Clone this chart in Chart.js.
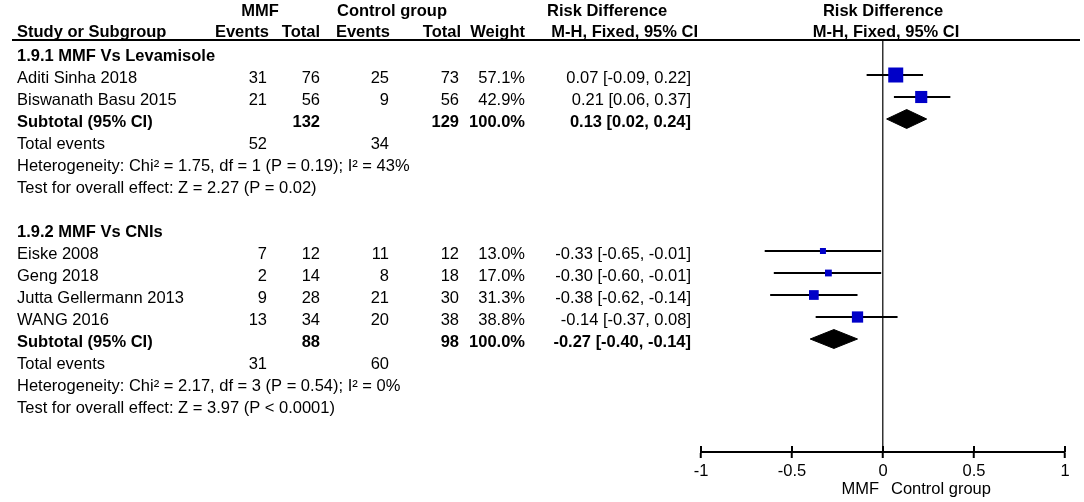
<!DOCTYPE html>
<html>
<head>
<meta charset="utf-8">
<title>MMF vs control group - risk difference</title>
<script src="https://cdn.jsdelivr.net/npm/chart.js@4.4.0/dist/chart.umd.min.js"></script>
<style>
  html, body { margin: 0; padding: 0; background: #fff; }
  #wrap { width: 1084px; height: 502px; }
</style>
</head>
<body>
<div id="wrap"><canvas id="forest" width="1084" height="502"></canvas></div>
<script>
// ---- data ----
const groupNames = ['1.9.1 MMF Vs Levamisole', '1.9.2 MMF Vs CNIs'];
const studies = ['Aditi Sinha 2018', 'Biswanath Basu 2015', 'Eiske 2008', 'Geng 2018', 'Jutta Gellermann 2013', 'WANG 2016'];
const studyGroup = [0, 0, 1, 1, 1, 1];
const mmfEvents = [31, 21, 7, 2, 9, 13];
const mmfTotal = [76, 56, 12, 14, 28, 34];
const ctrlEvents = [25, 9, 11, 8, 21, 20];
const ctrlTotal = [73, 56, 12, 18, 30, 38];
const weights = [57.1, 42.9, 13.0, 17.0, 31.3, 38.8];
const rd = [0.07, 0.21, -0.33, -0.30, -0.38, -0.14];
const rdLow = [-0.09, 0.06, -0.65, -0.60, -0.62, -0.37];
const rdHigh = [0.22, 0.37, -0.01, -0.01, -0.14, 0.08];

const subMmfTotal = [132, 88];
const subCtrlTotal = [129, 98];
const subWeight = [100.0, 100.0];
const subRd = [0.13, -0.27];
const subLow = [0.02, -0.40];
const subHigh = [0.24, -0.14];
const totalEventsMmf = [52, 31];
const totalEventsCtrl = [34, 60];
const heterogeneity = [
  'Heterogeneity: Chi\u00b2 = 1.75, df = 1 (P = 0.19); I\u00b2 = 43%',
  'Heterogeneity: Chi\u00b2 = 2.17, df = 3 (P = 0.54); I\u00b2 = 0%'
];
const overallEffect = [
  'Test for overall effect: Z = 2.27 (P = 0.02)',
  'Test for overall effect: Z = 3.97 (P < 0.0001)'
];
const xTicks = [-1, -0.5, 0, 0.5, 1];

// ---- row layout (one row per line of the table) ----
const headingRow = [], subtotalRow = [], totalRow = [], hetRow = [], testRow = [];
const studyRow = [];
let row = 0;
groupNames.forEach((name, g) => {
  headingRow.push(row++);
  studies.forEach((s, i) => { if (studyGroup[i] === g) studyRow[i] = row++; });
  subtotalRow.push(row++);
  totalRow.push(row++);
  hetRow.push(row++);
  testRow.push(row++);
  row++; // blank line between subgroups
});

const FONT = '"Liberation Sans", Arial, sans-serif';
const FONT_SIZE = 16.5;
const TEXT_DY = 3.5; // table text sits a little below the marker centre
Chart.defaults.font.family = FONT;
Chart.defaults.font.size = 16;
Chart.defaults.color = '#000';

function ciText(est, lo, hi) {
  return est.toFixed(2) + ' [' + lo.toFixed(2) + ', ' + hi.toFixed(2) + ']';
}

const squareData = studies.map((s, i) => ({ x: rd[i], y: studyRow[i] }));

const ciSets = studies.map((s, i) => ({
  label: s + ' CI',
  data: [{ x: rdLow[i], y: studyRow[i] }, { x: rdHigh[i], y: studyRow[i] }],
  showLine: true,
  borderColor: '#000',
  borderWidth: 2,
  pointRadius: 0,
  order: 2
}));

const DIAMOND_H = 0.43;
const diamondSets = groupNames.map((g, k) => {
  const r = subtotalRow[k];
  return {
    label: 'Subtotal ' + (k + 1),
    data: [
      { x: subLow[k], y: r },
      { x: subRd[k], y: r - DIAMOND_H },
      { x: subHigh[k], y: r },
      { x: subRd[k], y: r + DIAMOND_H },
      { x: subLow[k], y: r }
    ],
    showLine: true,
    fill: 'shape',
    backgroundColor: '#000',
    borderColor: '#000',
    borderWidth: 1,
    pointRadius: 0,
    tension: 0,
    order: 1
  };
});

// table text and decorations drawn against the chart's own scales
const tablePlugin = {
  id: 'forestTable',
  afterDraw(chart) {
    const ctx = chart.ctx;
    const xs = chart.scales.x;
    const ys = chart.scales.y;
    const area = chart.chartArea;
    const x0 = xs.getPixelForValue(0);

    function txt(str, x, r, align, bold, dy) {
      ctx.font = (bold ? 'bold ' : '') + FONT_SIZE + 'px ' + FONT;
      ctx.textAlign = align;
      ctx.textBaseline = 'middle';
      ctx.fillStyle = '#000';
      ctx.fillText(str, x, ys.getPixelForValue(r) + (dy === undefined ? TEXT_DY : dy));
    }

    ctx.save();
    // header underline
    ctx.strokeStyle = '#000';
    ctx.lineWidth = 2;
    ctx.beginPath();
    ctx.moveTo(12, area.top);
    ctx.lineTo(1080, area.top);
    ctx.stroke();

    // upper half of the axis ticks
    xs.ticks.forEach((t, i) => {
      const px = xs.getPixelForTick(i);
      ctx.beginPath();
      ctx.moveTo(px, area.bottom - 6);
      ctx.lineTo(px, area.bottom);
      ctx.stroke();
    });

    // column headers
    const h1 = 2.5, h2 = 1.5;
    txt('MMF', 260, -2, 'center', true, h1);
    txt('Control group', 392, -2, 'center', true, h1);
    txt('Risk Difference', 547, -2, 'left', true, h1);
    txt('Risk Difference', x0, -2, 'center', true, h1);
    txt('Study or Subgroup', 17, -1, 'left', true, h2);
    txt('Events', 269, -1, 'right', true, h2);
    txt('Total', 320, -1, 'right', true, h2);
    txt('Events', 390, -1, 'right', true, h2);
    txt('Total', 461, -1, 'right', true, h2);
    txt('Weight', 525, -1, 'right', true, h2);
    txt('M-H, Fixed, 95% CI', 698, -1, 'right', true, h2);
    txt('M-H, Fixed, 95% CI', x0 + 3, -1, 'center', true, h2);

    groupNames.forEach((name, g) => {
      txt(name, 17, headingRow[g], 'left', true);
      studies.forEach((s, i) => {
        if (studyGroup[i] !== g) return;
        const r = studyRow[i];
        txt(s, 17, r, 'left', false);
        txt(String(mmfEvents[i]), 267, r, 'right', false);
        txt(String(mmfTotal[i]), 320, r, 'right', false);
        txt(String(ctrlEvents[i]), 389, r, 'right', false);
        txt(String(ctrlTotal[i]), 459, r, 'right', false);
        txt(weights[i].toFixed(1) + '%', 525, r, 'right', false);
        txt(ciText(rd[i], rdLow[i], rdHigh[i]), 691, r, 'right', false);
      });
      const sr = subtotalRow[g];
      txt('Subtotal (95% CI)', 17, sr, 'left', true);
      txt(String(subMmfTotal[g]), 320, sr, 'right', true);
      txt(String(subCtrlTotal[g]), 459, sr, 'right', true);
      txt(subWeight[g].toFixed(1) + '%', 525, sr, 'right', true);
      txt(ciText(subRd[g], subLow[g], subHigh[g]), 691, sr, 'right', true);
      txt('Total events', 17, totalRow[g], 'left', false);
      txt(String(totalEventsMmf[g]), 267, totalRow[g], 'right', false);
      txt(String(totalEventsCtrl[g]), 389, totalRow[g], 'right', false);
      txt(heterogeneity[g], 17, hetRow[g], 'left', false);
      txt(overallEffect[g], 17, testRow[g], 'left', false);
    });

    // favours labels under the axis
    ctx.font = FONT_SIZE + 'px ' + FONT;
    ctx.textBaseline = 'middle';
    ctx.textAlign = 'right';
    ctx.fillText('MMF', x0 - 4, 489);
    ctx.textAlign = 'left';
    ctx.fillText('Control group', x0 + 8, 489);
    ctx.restore();
  }
};

new Chart(document.getElementById('forest'), {
  type: 'scatter',
  data: {
    datasets: [
      {
        label: 'Studies',
        data: squareData,
        pointStyle: 'rect',
        pointRadius: c => (3.35 + 0.204 * weights[c.dataIndex]) / Math.SQRT2,
        backgroundColor: '#0000c8',
        borderColor: '#0000c8',
        borderWidth: 0,
        order: 0
      },
      ...diamondSets,
      ...ciSets
    ]
  },
  options: {
    responsive: false,
    animation: false,
    events: [],
    layout: { padding: { left: 701, right: 19, top: 40, bottom: 0 } },
    plugins: {
      legend: { display: false },
      tooltip: { enabled: false }
    },
    scales: {
      x: {
        type: 'linear',
        min: -1,
        max: 1,
        afterBuildTicks: scale => { scale.ticks = xTicks.map(v => ({ value: v })); },
        afterFit: scale => { scale.height = 50; },
        grid: {
          drawOnChartArea: true,
          color: c => (c.tick && c.tick.value === 0 ? '#333' : 'rgba(0,0,0,0)'),
          lineWidth: 1.5,
          tickColor: '#000',
          tickLength: 6,
          tickWidth: 2
        },
        border: { display: true, color: '#000', width: 2 },
        ticks: {
          color: '#000',
          font: { size: FONT_SIZE },
          padding: 4,
          callback: v => String(v)
        }
      },
      y: {
        type: 'linear',
        display: false,
        reverse: true,
        min: -0.591,
        max: 18.136
      }
    }
  },
  plugins: [tablePlugin]
});
</script>
</body>
</html>
